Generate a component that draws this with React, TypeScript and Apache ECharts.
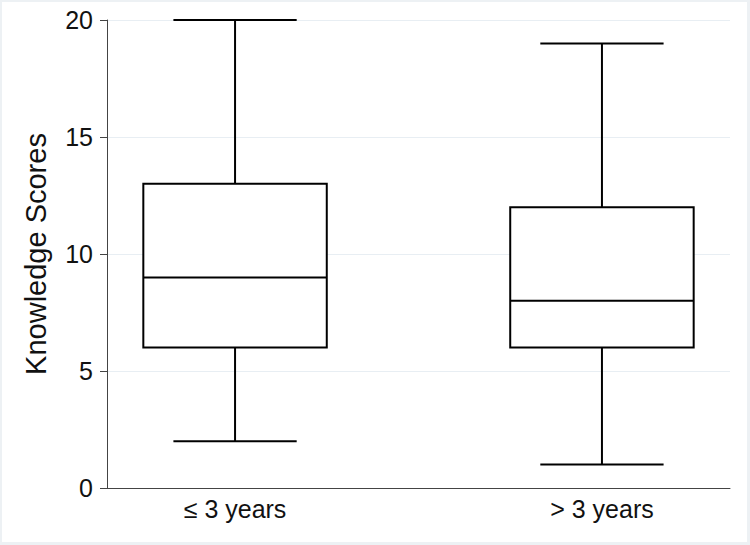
import React, { useEffect, useRef } from "react";
import * as echarts from "echarts";

const categories = ["≤ 3 years", "> 3 years"];
const minValues = [2, 1];
const q1Values = [6, 6];
const medianValues = [9, 8];
const q3Values = [13, 12];
const maxValues = [20, 19];
const yTicks = [0, 5, 10, 15, 20];

const FONT = "'Liberation Sans', Arial, Helvetica, sans-serif";

export default function App() {
  const ref = useRef<HTMLDivElement>(null);

  useEffect(() => {
    if (!ref.current) return;
    const chart = echarts.init(ref.current, null, { renderer: "svg" });

    const data = categories.map((_, i) => [
      i,
      minValues[i],
      q1Values[i],
      medianValues[i],
      q3Values[i],
      maxValues[i],
    ]);

    const option: any = {
      animation: false,
      backgroundColor: "transparent",
      grid: { left: 107, right: 20, top: 20, bottom: 57, containLabel: false },
      xAxis: {
        type: "value",
        min: -0.349,
        max: categories.length - 1 + 0.349,
        axisLine: { show: true, onZero: false, lineStyle: { color: "#444", width: 1 } },
        axisTick: { show: false },
        splitLine: { show: false },
        axisLabel: {
          show: true,
          customValues: categories.map((_, i) => i),
          formatter: (v: number) => categories[Math.round(v)] ?? "",
          fontSize: 25,
          fontFamily: FONT,
          color: "#111",
          margin: 8,
        },
      },
      yAxis: {
        type: "value",
        min: yTicks[0],
        max: yTicks[yTicks.length - 1],
        interval: 5,
        name: "Knowledge Scores",
        nameLocation: "middle",
        nameGap: 57,
        nameTextStyle: { fontSize: 29, fontFamily: FONT, color: "#111" },
        axisLine: { show: true, onZero: false, lineStyle: { color: "#444", width: 1 } },
        axisTick: { show: true, length: 7, lineStyle: { color: "#444" } },
        axisLabel: { fontSize: 25, fontFamily: FONT, color: "#111", margin: 14 },
        splitLine: { show: true, lineStyle: { color: "#e8eef3", width: 1 } },
      },
      series: [
        {
          type: "custom",
          data,
          renderItem: (params: any, api: any) => {
            const x = api.value(0);
            const pMin = api.coord([x, api.value(1)]);
            const pQ1 = api.coord([x, api.value(2)]);
            const pMed = api.coord([x, api.value(3)]);
            const pQ3 = api.coord([x, api.value(4)]);
            const pMax = api.coord([x, api.value(5)]);
            const unit = api.size([1, 0])[0];
            const halfBox = unit * 0.25;
            const halfCap = unit * 0.168;
            const cx = pMed[0];
            const st = { stroke: "#000", lineWidth: 2, fill: "none" };
            return {
              type: "group",
              children: [
                {
                  type: "line",
                  shape: { x1: cx, y1: pQ3[1], x2: cx, y2: pMax[1] },
                  style: st,
                },
                {
                  type: "line",
                  shape: { x1: cx, y1: pQ1[1], x2: cx, y2: pMin[1] },
                  style: st,
                },
                {
                  type: "line",
                  shape: { x1: cx - halfCap, y1: pMax[1], x2: cx + halfCap, y2: pMax[1] },
                  style: st,
                },
                {
                  type: "line",
                  shape: { x1: cx - halfCap, y1: pMin[1], x2: cx + halfCap, y2: pMin[1] },
                  style: st,
                },
                {
                  type: "rect",
                  shape: {
                    x: cx - halfBox,
                    y: pQ3[1],
                    width: halfBox * 2,
                    height: pQ1[1] - pQ3[1],
                  },
                  style: { stroke: "#000", lineWidth: 2, fill: "#fff" },
                },
                {
                  type: "line",
                  shape: { x1: cx - halfBox, y1: pMed[1], x2: cx + halfBox, y2: pMed[1] },
                  style: st,
                },
              ],
            };
          },
        },
      ],
    };

    chart.setOption(option);
    return () => chart.dispose();
  }, []);

  return (
    <div
      style={{
        position: "absolute",
        left: 0,
        top: 0,
        width: 750,
        height: 545,
        background: "#edf1f4",
      }}
    >
      <div
        style={{
          position: "absolute",
          left: 2,
          top: 2,
          width: 745,
          height: 540,
          background: "#fff",
        }}
      />
      <div
        ref={ref}
        style={{ position: "absolute", left: 0, top: 0, width: 750, height: 545 }}
      />
    </div>
  );
}
